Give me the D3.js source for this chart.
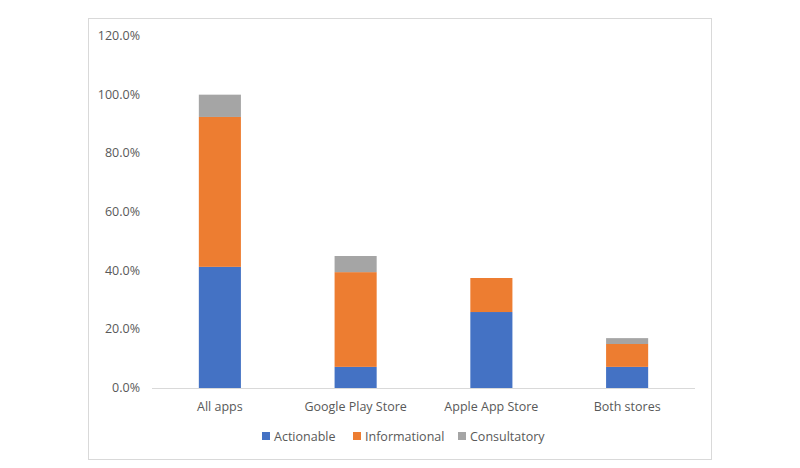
<!DOCTYPE html>
<html><head><meta charset="utf-8">
<script src="https://cdn.jsdelivr.net/npm/d3@7"></script>
<style>body{margin:0;background:#fff;font-family:"Open Sans",sans-serif;}</style>
</head><body><svg id="c" width="800" height="468"></svg>
<script>
const categories = ["All apps","Google Play Store","Apple App Store","Both stores"];
const seriesNames = ["Actionable","Informational","Consultatory"];
const actionable = [41.3, 7.2, 25.9, 7.2];
const informational = [51.1, 32.3, 11.6, 7.8];
const consultatory = [7.6, 5.5, 0, 2.0];
const yTicks = [0,20,40,60,80,100,120];
const colors = ["#4472C4","#ED7D31","#A5A5A5"];

const svg = d3.select("#c");
svg.append("rect").attr("x",88.5).attr("y",18.5).attr("width",623).attr("height",441)
  .attr("fill","#fff").attr("stroke","#D9D9D9");
const x = d3.scaleBand().domain(categories).range([152,695]).paddingInner(0.69).paddingOuter(0.345);
const y = d3.scaleLinear().domain([0,120]).range([388,36]);
const data = categories.map((c,i)=>({cat:c,Actionable:actionable[i],Informational:informational[i],Consultatory:consultatory[i]}));
const stack = d3.stack().keys(seriesNames)(data);
stack.forEach((s,k)=>{
  svg.append("g").selectAll("rect").data(s).join("rect")
    .attr("x",d=>x(d.data.cat)).attr("width",x.bandwidth())
    .attr("y",d=>y(d[1])).attr("height",d=>y(d[0])-y(d[1]))
    .attr("fill",colors[k]);
});
svg.append("line").attr("x1",152).attr("x2",695).attr("y1",388.5).attr("y2",388.5).attr("stroke","#D9D9D9");
svg.append("g").selectAll("text").data(yTicks).join("text")
  .attr("x",140).attr("y",d=>y(d)+4).attr("text-anchor","end")
  .attr("font-size",12.5).attr("fill","#595959").text(d=>d.toFixed(1)+"%");
svg.append("g").selectAll("text").data(categories).join("text")
  .attr("x",d=>x(d)+x.bandwidth()/2).attr("y",411).attr("text-anchor","middle")
  .attr("font-size",12.5).attr("fill","#595959").text(d=>d);
const leg = svg.append("g");
const lx = [262,353,458];
seriesNames.forEach((n,i)=>{
  leg.append("rect").attr("x",lx[i]).attr("y",432).attr("width",8).attr("height",8).attr("fill",colors[i]);
  leg.append("text").attr("x",lx[i]+12).attr("y",441).attr("font-size",12.5).attr("fill","#595959").text(n);
});
</script></body></html>
